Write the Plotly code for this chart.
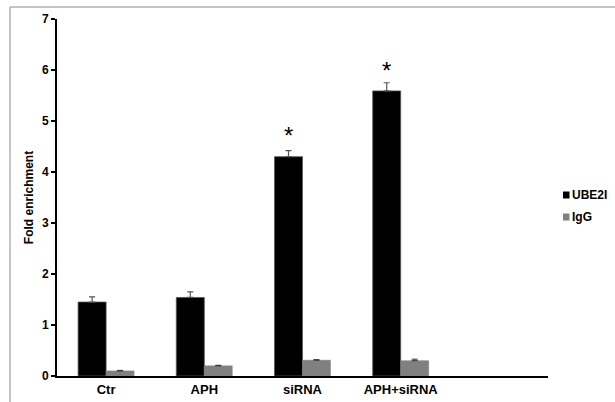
import plotly.graph_objects as go

categories = ["Ctr", "APH", "siRNA", "APH+siRNA", " "]
ube2i = [1.45, 1.54, 4.30, 5.59, None]
ube2i_err = [0.10, 0.11, 0.12, 0.16, None]
igg = [0.10, 0.20, 0.31, 0.30, None]
igg_err = [0.01, 0.01, 0.01, 0.03, None]
star_cats = ["siRNA", "APH+siRNA"]
star_y = [4.72, 6.0]
legend_names = ["UBE2I", "IgG"]
legend_colors = ["black", "#808080"]

FONT = "Liberation Sans, Arial"

fig = go.Figure()
fig.add_trace(go.Bar(
    name="UBE2I", x=categories, y=ube2i,
    marker=dict(color="black", line=dict(color="#555555", width=0.8)),
    error_y=dict(type="data", array=ube2i_err, symmetric=False, arrayminus=[0]*5,
                 color="#555555", thickness=1.2, width=3),
))
fig.add_trace(go.Bar(
    name="IgG", x=categories, y=igg,
    marker=dict(color="#808080", line=dict(color="#808080", width=0.5)),
    error_y=dict(type="data", array=igg_err, symmetric=False, arrayminus=[0]*5,
                 color="#333333", thickness=1, width=3),
))

for c, y in zip(star_cats, star_y):
    fig.add_annotation(x=c, y=y, text="*", showarrow=False, xshift=-14,
                       font=dict(size=24, color="black", family=FONT))

# plot area in pixels: x 57..548, y 19..376
PW, PH = 491, 357
def px(x):
    return (x - 57) / PW
def py(y):
    return (376 - y) / PH

# manual legend
for i, (name, col) in enumerate(zip(legend_names, legend_colors)):
    yc = 195 + 22 * i
    fig.add_shape(type="rect", xref="paper", yref="paper",
                  x0=px(563), x1=px(569.5), y0=py(yc + 3.5), y1=py(yc - 3.5),
                  fillcolor=col, line=dict(width=0))
    fig.add_annotation(xref="paper", yref="paper", x=px(570), y=py(yc), text=name,
                       showarrow=False, xanchor="left", yanchor="middle",
                       font=dict(size=12, color="black", family=FONT, weight="bold"))

# outer border (top and left)
bx = px(10)
by = py(7)
fig.add_shape(type="line", xref="paper", yref="paper", x0=bx, x1=1.2, y0=by, y1=by,
              line=dict(color="#B0B0B0", width=1.5))
fig.add_shape(type="line", xref="paper", yref="paper", x0=bx, x1=bx, y0=by, y1=-0.2,
              line=dict(color="#B0B0B0", width=1.5))

fig.update_layout(
    width=615, height=402,
    margin=dict(l=57, r=67, t=19, b=26),
    paper_bgcolor="white", plot_bgcolor="white",
    barmode="group", bargap=0.43, bargroupgap=0,
    font=dict(family=FONT, color="black"),
    showlegend=False,
    xaxis=dict(showline=True, linecolor="black", linewidth=2, ticks="", automargin=False,
               tickfont=dict(size=13, family=FONT, weight="bold", color="black"),
               showgrid=False, zeroline=False),
    yaxis=dict(range=[0, 7], dtick=1, showline=True, linecolor="black", linewidth=2,
               automargin=False,
               ticks="outside", ticklen=4, tickwidth=2, tickcolor="black",
               tickfont=dict(size=12, family=FONT, weight="bold", color="black"),
               showgrid=False, zeroline=False,
               title=dict(text="Fold enrichment", standoff=6,
                          font=dict(size=12, family=FONT, weight="bold", color="black"))),
)

fig.write_html("out.html", config={"displayModeBar": False},
               post_script="document.body.style.margin='0';document.body.style.overflow='hidden';")
